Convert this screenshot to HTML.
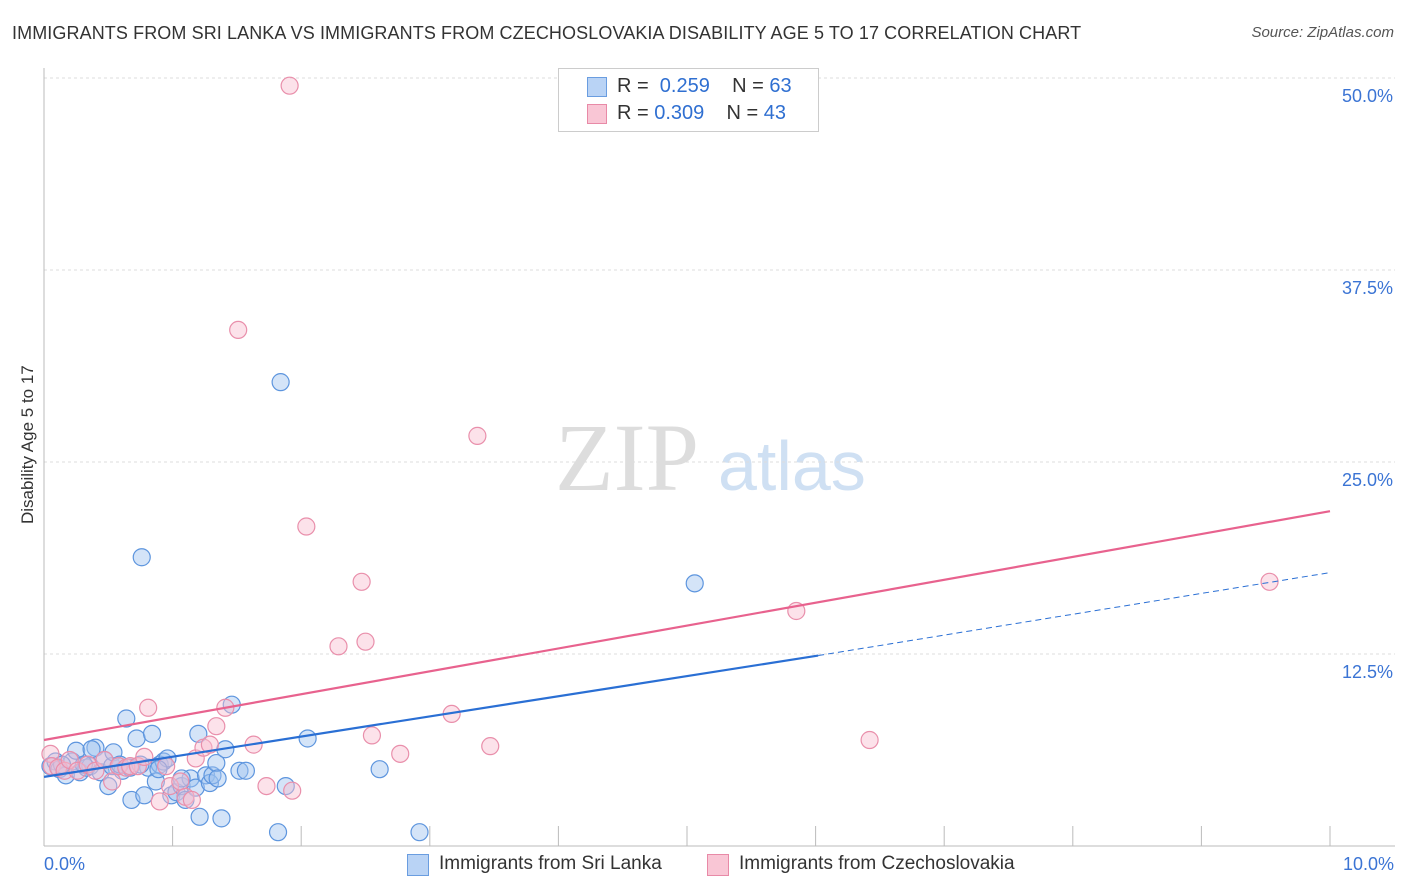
<!DOCTYPE html>
<html><head><meta charset="utf-8"><style>
body{margin:0;background:#fff;font-family:"Liberation Sans",sans-serif;}
#wrap{position:relative;width:1406px;height:892px;overflow:hidden;}
.t{position:absolute;white-space:nowrap;}
</style></head><body>
<div id="wrap">
<div class="t" style="left:12px;top:23px;font-size:18px;color:#333;letter-spacing:0.1px;">IMMIGRANTS FROM SRI LANKA VS IMMIGRANTS FROM CZECHOSLOVAKIA DISABILITY AGE 5 TO 17 CORRELATION CHART</div>
<div class="t" style="right:12px;top:24px;font-size:15px;color:#555;font-style:italic;">Source: ZipAtlas.com</div>
<div class="t" style="left:-42px;top:444px;font-size:17px;color:#333;transform:rotate(-90deg);transform-origin:center;width:140px;text-align:center;">Disability Age 5 to 17</div>
<svg id="svg" width="1406" height="892" style="position:absolute;left:0;top:0"></svg>
<div style="position:absolute;left:558px;top:68px;width:259px;height:62px;border:1px solid #ccc;background:#fff;font-size:20px;color:#333;">
 <div style="position:absolute;left:28px;top:8px;width:18px;height:18px;background:#b9d3f5;border:1px solid #6a9de0;"></div>
 <div class="t" style="left:58px;top:6px;">R = <span style="color:#2f6fd1">&nbsp;0.259</span>&nbsp;&nbsp;&nbsp; N = <span style="color:#2f6fd1">63</span></div>
 <div style="position:absolute;left:28px;top:35px;width:18px;height:18px;background:#f9c6d5;border:1px solid #e88aa7;"></div>
 <div class="t" style="left:58px;top:33px;">R = <span style="color:#2f6fd1">0.309</span>&nbsp;&nbsp;&nbsp; N = <span style="color:#2f6fd1">43</span></div>
</div>
<div style="position:absolute;left:407px;top:853px;font-size:19px;color:#333;">
 <div style="position:absolute;left:0;top:1px;width:20px;height:20px;background:#b9d3f5;border:1px solid #6a9de0;"></div>
 <div class="t" style="left:32px;top:0;">Immigrants from Sri Lanka</div>
 <div style="position:absolute;left:300px;top:1px;width:20px;height:20px;background:#f9c6d5;border:1px solid #e88aa7;"></div>
 <div class="t" style="left:332px;top:0;">Immigrants from Czechoslovakia</div>
</div>
</div>
<script>
const yTicks=[12.5,25,37.5,50];
const yTickLabels=["12.5%","25.0%","37.5%","50.0%"];
const xTickLabels=["0.0%","10.0%"];
const blueX=[0.05,0.09,0.12,0.17,0.22,0.25,0.28,0.33,0.36,0.4,0.44,0.47,0.5,0.53,0.54,0.58,0.61,0.64,0.68,0.72,0.76,0.78,0.81,0.84,0.87,0.9,0.93,0.96,0.99,1.03,1.07,1.1,1.14,1.18,1.2,1.21,1.26,1.29,1.31,1.34,1.35,1.38,1.41,1.46,1.52,1.57,1.84,1.82,1.88,2.05,2.61,2.92,5.06,0.59,0.14,0.31,0.67,0.75,0.89,1.07,0.37];
const blueY=[5.2,5.5,5.0,4.6,5.5,6.2,4.8,5.1,5.2,6.4,4.8,5.6,3.9,5.2,6.1,5.2,4.9,8.3,3.0,7.0,18.8,3.3,5.1,7.3,4.2,5.3,5.5,5.7,3.3,3.5,3.9,3.0,4.4,3.8,7.3,1.9,4.6,4.1,4.6,5.4,4.4,1.8,6.3,9.2,4.9,4.9,30.2,0.9,3.9,7.0,5.0,0.9,17.1,5.3,5.3,5.3,5.1,5.3,5.0,4.4,6.3];
const pinkX=[0.05,0.06,0.11,0.16,0.2,0.26,0.34,0.4,0.47,0.53,0.58,0.64,0.67,0.73,0.78,0.81,0.9,0.95,0.98,1.06,1.1,1.15,1.18,1.24,1.29,1.34,1.41,1.51,1.63,1.73,1.91,1.93,2.04,2.29,2.47,2.5,2.55,2.77,3.17,3.37,3.47,5.85,6.42,9.53];
const pinkY=[6.0,5.2,5.1,4.9,5.6,4.9,5.3,4.9,5.6,4.2,5.2,5.1,5.2,5.2,5.8,9.0,2.9,5.2,3.9,4.2,3.2,3.0,5.7,6.4,6.6,7.8,9.0,33.6,6.6,3.9,49.5,3.6,20.8,13.0,17.2,13.3,7.2,6.0,8.6,26.7,6.5,15.3,6.9,17.2];
const pinkLine=[6.9,21.8];
const blueLine=[4.5,12.4,17.8];
const X0=44,X1=1330,Y0=846,PY=15.36;
const sx=v=>X0+(X1-X0)*v/10, sy=v=>Y0-v*PY;
const svg=document.getElementById('svg');const NS='http://www.w3.org/2000/svg';
function el(t,a){const e=document.createElementNS(NS,t);for(const k in a)e.setAttribute(k,a[k]);svg.appendChild(e);return e;}
let w=el('text',{x:555,y:490,'font-size':96,fill:'#ddd','font-family':'Liberation Serif, serif'});w.textContent='ZIP';


let w2=el('text',{x:718,y:490,'font-size':70,fill:'#cfe0f3','font-family':'Liberation Sans, sans-serif'});w2.textContent='atlas';


yTicks.forEach((v,i)=>{
 let g=el('line',{x1:X0,x2:1395,y1:sy(v),y2:sy(v),stroke:'#ddd','stroke-dasharray':'3,3'});
 
 
 let t=el('text',{x:1393,y:sy(v)+24,'text-anchor':'end','font-size':18,fill:'#3b74d4','font-family':'Liberation Sans, sans-serif'});t.textContent=yTickLabels[i];
 
 
});
let ax=el('line',{x1:X0,x2:X0,y1:68,y2:846,stroke:'#bbb'});


let bx=el('line',{x1:X0,x2:1395,y1:846,y2:846,stroke:'#bbb'});


for(let i=1;i<=10;i++){let tk=el('line',{x1:sx(i),x2:sx(i),y1:826,y2:846,stroke:'#bbb'});
 
 }
[[0,xTickLabels[0],'start',44],[10,xTickLabels[1],'end',1394]].forEach(d=>{let t=el('text',{x:d[3],y:870,'text-anchor':d[2],'font-size':18,fill:'#3b74d4','font-family':'Liberation Sans, sans-serif'});t.textContent=d[1];
 
 });
blueX.forEach((x,i)=>{let c=el('circle',{cx:sx(x),cy:sy(blueY[i]),r:8.5,fill:'rgba(160,196,240,0.45)',stroke:'#5d95de','stroke-width':1.2});
 
 });
pinkX.forEach((x,i)=>{let c=el('circle',{cx:sx(x),cy:sy(pinkY[i]),r:8.5,fill:'rgba(248,190,208,0.45)',stroke:'#e98fab','stroke-width':1.2});
 
 });
let pl=el('line',{x1:sx(0),y1:sy(pinkLine[0]),x2:sx(10),y2:sy(pinkLine[1]),stroke:'#e8628e','stroke-width':2.2});


let bl=el('line',{x1:sx(0),y1:sy(blueLine[0]),x2:sx(6.02),y2:sy(blueLine[1]),stroke:'#2a6fd4','stroke-width':2.2});


let bd=el('line',{x1:sx(6.02),y1:sy(blueLine[1]),x2:sx(10),y2:sy(blueLine[2]),stroke:'#2a6fd4','stroke-width':1,'stroke-dasharray':'6,4'});


</script>
</body></html>
